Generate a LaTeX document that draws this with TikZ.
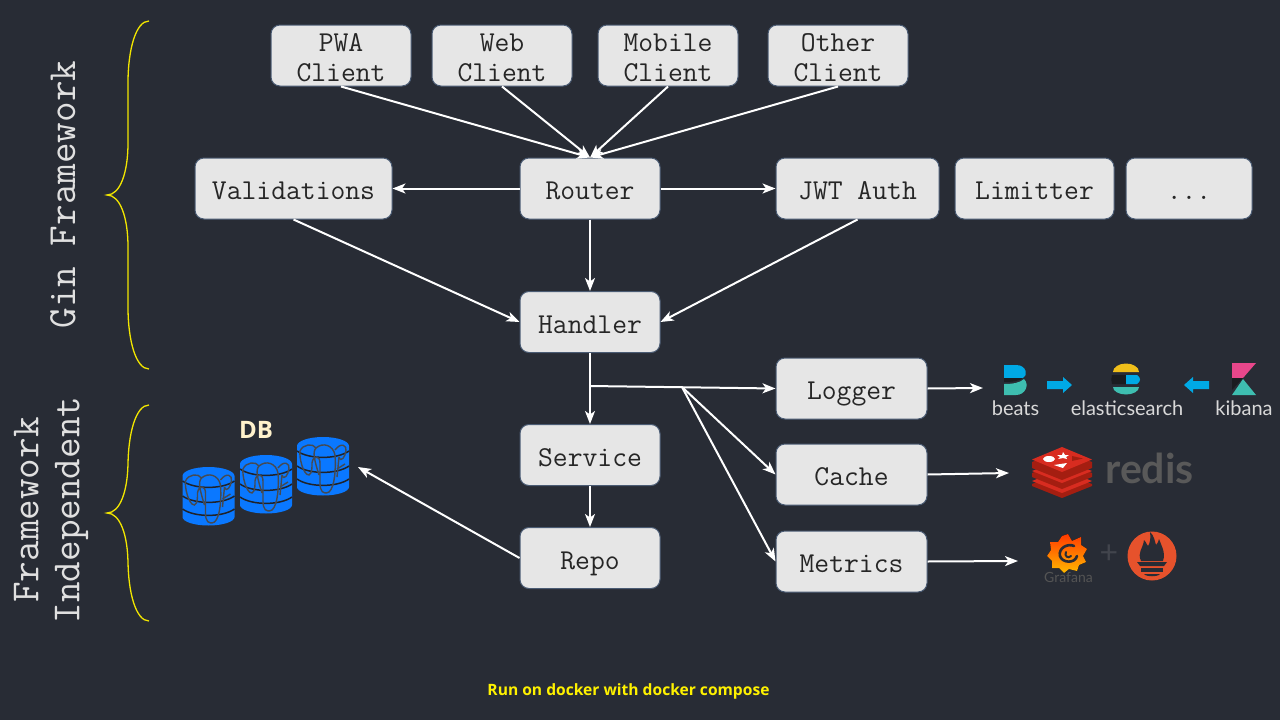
\documentclass[tikz,border=0pt]{standalone}
\usepackage{fontspec}
\newfontfamily\uif{Open Sans}
\newfontfamily\logof{Lato}
\usetikzlibrary{arrows.meta}
\definecolor{bg}{HTML}{282C35}
\definecolor{boxf}{HTML}{E6E6E6}
\definecolor{boxb}{HTML}{4A5B73}
\definecolor{brc}{HTML}{F2E600}
\definecolor{dbblue}{HTML}{0A78FF}
\definecolor{eleph}{HTML}{454A52}
\definecolor{rdark}{HTML}{A41E11}
\definecolor{rmid}{HTML}{D82C20}
\definecolor{lblue}{HTML}{00A9E5}
\definecolor{lteal}{HTML}{3EBEB0}
\definecolor{lpink}{HTML}{E8478B}
\definecolor{lyel}{HTML}{F0BF1A}
\definecolor{ldark}{HTML}{1A1C20}
\definecolor{prom}{HTML}{E6522C}
\definecolor{cream}{HTML}{FFF2CC}
\tikzset{
  x=1pt,y=-1pt,
  box/.style={draw=boxb,line width=1pt,fill=boxf,rounded corners=9pt,text=black!85,inner sep=0pt,align=center,
    text height=23pt,text depth=1pt,
    font=\ttfamily\fontsize{28.8}{30}\selectfont},
  twoline/.style={box,text height=53pt,text depth=1pt},
  conn/.style={draw=white,line width=2pt,-{Stealth[length=13pt,width=10pt,inset=3.5pt]}},
  brace/.style={draw=brc,line width=1.3pt},
  side/.style={text=white!88!black,rotate=90,align=center,font=\ttfamily\fontsize{40}{41}\selectfont},
  logotext/.style={inner sep=0pt,text=white!85!black,font=\logof\fontsize{20}{20}\selectfont},
  dbcyl/.pic={
    \fill[dbblue] (-26,9) arc[start angle=180,end angle=360,x radius=26,y radius=9] -- (26,50)
       arc[start angle=0,end angle=180,x radius=26,y radius=8.5] -- cycle;
    \foreach \yy in {14,29,42}{
      \draw[bg!80!black,line width=1.5pt] (-26,\yy) .. controls (-14,\yy+8.5) and (14,\yy+8.5) .. (26,\yy);
    }
    \draw[eleph,line width=1.4pt]
      (-4,38) .. controls (-8,25) and (-11,15) .. (-7,11) .. controls (0,5) and (10,8) .. (12,18)
      .. controls (13,30) and (12,50) .. (6,55) .. controls (0,58) and (-3,54) .. (-3,46)
      -- (-3,26) .. controls (-3,18) and (-10,18) .. (-11,26) .. controls (-11,32) and (-11,36) .. (-14,38)
      .. controls (-20,38) and (-24,20) .. (-23,14) .. controls (-20,7) and (-10,6) .. (-7,11);
    \draw[eleph,line width=1.4pt]
      (12,13) .. controls (18,5) and (24,8) .. (23,14) .. controls (22,20) and (18,26) .. (16,20)
      (16,20) -- (14,40) (14,32) -- (22,27);
  }
}
\newcommand{\ybrace}[3]{%
  \draw[brace] (149,#1) .. controls (136,#1) and (128,#1+28) .. (128,#1+62) -- (128,#2-52)
    .. controls (128,#2-22) and (120,#2) .. (107,#2)
    .. controls (120,#2) and (128,#2+22) .. (128,#2+52) -- (128,#3-62)
    .. controls (128,#3-28) and (136,#3) .. (149,#3);}
\begin{document}
\begin{tikzpicture}
\path[fill=bg] (0,0) rectangle (1280,720);
\useasboundingbox (0,0) rectangle (1280,720);

% boxes
\node[twoline,minimum width=140pt,minimum height=61pt] (pwa) at (341,55.5) {PWA\\Client};
\node[twoline,minimum width=140pt,minimum height=61pt] (web) at (502,55.5) {Web\\Client};
\node[twoline,minimum width=140pt,minimum height=61pt] (mob) at (668,55.5) {Mobile\\Client};
\node[twoline,minimum width=140pt,minimum height=61pt] (oth) at (838,55.5) {Other\\Client};
\node[box,minimum width=197pt,minimum height=61pt] (val) at (293.5,188.5) {Validations};
\node[box,minimum width=140pt,minimum height=61pt] (rou) at (590,188.5) {Router};
\node[box,minimum width=163pt,minimum height=61pt] (jwt) at (857.5,188.5) {JWT Auth};
\node[box,minimum width=159pt,minimum height=61pt] (lim) at (1034.5,188.5) {Limitter};
\node[box,minimum width=126pt,minimum height=61pt] (dots) at (1189,188.5) {...};
\node[box,minimum width=140pt,minimum height=61pt] (han) at (590,322) {Handler};
\node[box,minimum width=140pt,minimum height=61pt] (ser) at (590,455) {Service};
\node[box,minimum width=140pt,minimum height=61pt] (rep) at (590,558) {Repo};
\node[box,minimum width=151pt,minimum height=61pt] (log) at (851.5,388.5) {Logger};
\node[box,minimum width=151pt,minimum height=61pt] (cac) at (851.5,474.5) {Cache};
\node[box,minimum width=151pt,minimum height=61pt] (met) at (851.5,561.5) {Metrics};

% free ends
\coordinate (tap) at (590,386);
\coordinate (fork) at (682,387);
\coordinate (elk) at (983,388);
\coordinate (red) at (1009,473);
\coordinate (graf) at (1018,561);
\coordinate (db) at (358,467);

% connectors
\draw[conn] (pwa.south) -- (rou.north);
\draw[conn] (web.south) -- (rou.north);
\draw[conn] (mob.south) -- (rou.north);
\draw[conn] (oth.south) -- (rou.north);
\draw[conn] (rou.west) -- (val.east);
\draw[conn] (rou.east) -- (jwt.west);
\draw[conn] (rou.south) -- (han.north);
\draw[conn] (val.south) -- (han.west);
\draw[conn] (jwt.south) -- (han.east);
\draw[conn] (han.south) -- (ser.north);
\draw[conn] (ser.south) -- (rep.north);
\draw[conn] (tap) -- (log.west);
\draw[conn] (fork) -- (cac.west);
\draw[conn] (fork) -- (met.west);
\draw[conn] (log.east) -- (elk);
\draw[conn] (cac.east) -- (red);
\draw[conn] (met.east) -- (graf);
\draw[conn] (rep.west) -- (db);

% braces and side labels
\ybrace{21}{195}{369}
\ybrace{405}{513}{621}
\node[side] (gin) at (63,194.5) {Gin Framework};
\node[side] (fi) at (51,510) {Framework\\Independent};

% DB
\node[inner sep=0pt,text=cream,font=\uif\bfseries\fontsize{24}{24}\selectfont] (dbl) at (256,430) {DB};
\pic at (208.5,467) {dbcyl};
\pic at (266,455) {dbcyl};
\pic at (323,437) {dbcyl};

% beats
\fill[lblue] (1004,365) -- (1016,365) .. controls (1027,365) and (1028,376) .. (1023,378) -- (1004,378) -- cycle;
\fill[ldark] (1004,378) -- (1023,378) .. controls (1020,381) and (1012,382) .. (1004,382) -- cycle;
\fill[lteal] (1004,384) .. controls (1012,384) and (1020,383) .. (1024,379) .. controls (1030,385) and (1025,395) .. (1016,395) -- (1004,395) -- cycle;
\node[logotext] (beatst) at (1015.5,408.5) {beats};
% arrows
\fill[lblue] (1047,381) -- (1063,381) -- (1063,377) -- (1072,385) -- (1063,393) -- (1063,389) -- (1047,389) -- cycle;
\fill[lblue] (1209,381) -- (1193,381) -- (1193,377) -- (1184,385) -- (1193,393) -- (1193,389) -- (1209,389) -- cycle;
% elastic
\fill[lyel] (1113,372) arc[start angle=180,end angle=360,x radius=13,y radius=8.5] -- cycle;
\fill[ldark] (1112,375) -- (1126,375) -- (1126,384) -- (1112,384) .. controls (1111,381) and (1111,378) .. (1112,375);
\fill[lblue] (1126,375) -- (1137,375) .. controls (1141,378) and (1141,381) .. (1137,384) -- (1126,384) -- cycle;
\fill[lteal] (1113,387) -- (1139,387) arc[start angle=0,end angle=180,x radius=13,y radius=7.5] -- cycle;
\node[logotext] (elt) at (1127,408.5) {elasticsearch};
% kibana
\fill[lpink] (1232,363) -- (1256,363) -- (1243,378) -- (1232,378) -- cycle;
\fill[ldark] (1232,378) -- (1243,378) -- (1232,390) -- cycle;
\fill[lteal] (1232,395) -- (1256,395) -- (1243,379) -- cycle;
\node[logotext] (kib) at (1244,408.5) {kibana};

% redis
\fill[rdark] (1032,484) -- (1062,472) -- (1092,484) -- (1092,486) -- (1062,498) -- (1032,486) -- cycle;
\fill[rmid] (1032,481) -- (1062,469) -- (1092,481) -- (1062,493) -- cycle;
\fill[rdark] (1032,473) -- (1062,461) -- (1092,473) -- (1092,477) -- (1062,489) -- (1032,477) -- cycle;
\fill[rmid] (1032,471) -- (1062,459) -- (1092,471) -- (1062,483) -- cycle;
\fill[rdark] (1032,462) -- (1062,450) -- (1092,462) -- (1092,468) -- (1062,480) -- (1032,468) -- cycle;
\fill[rmid] (1032,459.5) -- (1062,447) -- (1092,459.5) -- (1062,472) -- cycle;
\fill[white] (1049,459) ellipse[x radius=6,y radius=3];
\fill[white] (1063,452) -- (1065,455) -- (1069,455) -- (1066,457) -- (1067,459) -- (1063,458) -- (1058,459) -- (1060,457) -- (1057,455) -- (1062,455) -- cycle;
\fill[white] (1054,465) -- (1067,463) -- (1063,468) -- cycle;
\fill[rdark] (1072,461) -- (1072,456) -- (1083,458.5) -- cycle;
\node[inner sep=0pt,text=white!35!black,font=\logof\bfseries\fontsize{41}{41}\selectfont] (redt) at (1149.5,468) {redis};

% grafana
\fill[top color=red!55!orange,bottom color=yellow!45!orange]
  (1068,534) -- (1072,541) -- (1081,537) -- (1081,545) -- (1087,549) -- (1083,556) -- (1086,562)
  -- (1079,565) -- (1077,571) -- (1069,569) -- (1064,573) -- (1059,568) -- (1052,568) -- (1052,561)
  -- (1047,556) -- (1051,550) -- (1050,542) -- (1058,542) -- (1062,536) -- cycle;
\draw[bg,line width=2.6pt,line cap=round] (1077,556) .. controls (1075,564) and (1062,563) .. (1060,556)
  .. controls (1058,548) and (1068,543) .. (1074,546);
\draw[bg,line width=2pt,line cap=round] (1071,556) .. controls (1068,559) and (1064,556) .. (1066,552);
\node[inner sep=0pt,text=white!33!black,font=\logof\fontsize{14}{14}\selectfont] (grt) at (1068.5,577) {Grafana};
\node[inner sep=0pt,text=white!12!bg,font=\logof\fontsize{32}{32}\selectfont] (plus) at (1109,554) {+};

% prometheus
\fill[prom] (1152,556) circle[radius=24.5];
\fill[bg] (1141,561) .. controls (1137,552) and (1143,549) .. (1144,540) .. controls (1147,543) and (1147,546) .. (1148,546)
  .. controls (1150,543) and (1151,538) .. (1150,532) .. controls (1154,535) and (1155,542) .. (1156,545)
  .. controls (1158,544) and (1158,541) .. (1159,539) .. controls (1161,545) and (1166,552) .. (1163,561) -- cycle;
\fill[bg] (1137,562) -- (1167,562) -- (1164,566) -- (1140,566) -- cycle;
\fill[bg] (1141,568) -- (1163,568) -- (1163,572) -- (1141,572) -- cycle;
\fill[bg] (1144,574) -- (1160,574) .. controls (1158,577) and (1146,577) .. (1144,574) -- cycle;

% caption
\node[inner sep=0pt,text=yellow,font=\uif\bfseries\fontsize{15.6}{16}\selectfont] (cap) at (628.5,691) {Run on docker with docker compose};
\end{tikzpicture}
\end{document}
